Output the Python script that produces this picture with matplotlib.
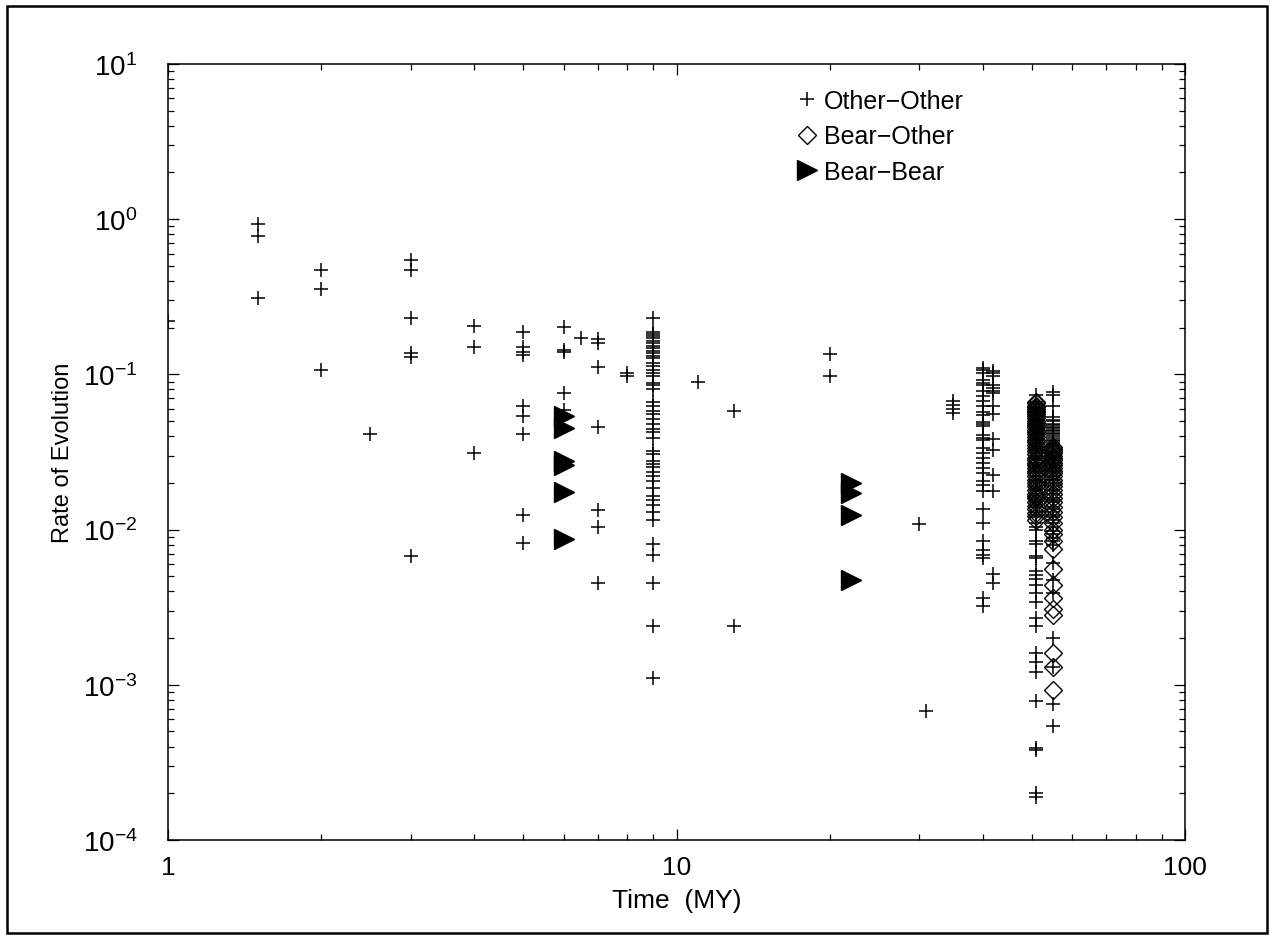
import numpy as np
import matplotlib
matplotlib.use("Agg")
import matplotlib.pyplot as plt
from matplotlib.patches import Rectangle

plt.rcParams['font.family'] = ['Liberation Sans', 'DejaVu Sans']
plt.rcParams['mathtext.fontset'] = 'custom'
plt.rcParams['mathtext.rm'] = 'Liberation Sans'
plt.rcParams['mathtext.it'] = 'Liberation Sans:italic'

# Other-Other: divergence time (MY) and the rates read at that time
other_times = [1, 1.5, 2, 2.5, 3, 4, 5, 6, 6.5, 7, 8, 9, 11, 13, 20, 30, 31, 35, 40, 42, 51, 55]
other_rates = [
    [0.22],
    [0.93, 0.78, 0.31],
    [0.47, 0.355, 0.107],
    [0.041],
    [0.55, 0.47, 0.23, 0.137, 0.13, 0.0068],
    [0.205, 0.15, 0.031],
    [0.187, 0.15, 0.14, 0.133, 0.0625, 0.054, 0.041, 0.0124, 0.0082],
    [0.203, 0.144, 0.14, 0.076, 0.059],
    [0.172],
    [0.169, 0.16, 0.112, 0.0458, 0.0134, 0.0104, 0.0045],
    [0.102, 0.097],
    [0.230, 0.187, 0.182, 0.176, 0.171, 0.165, 0.159, 0.153, 0.148, 0.142,
     0.137, 0.132, 0.127, 0.118, 0.114, 0.106, 0.102, 0.098, 0.088, 0.085,
     0.0805, 0.066, 0.0629, 0.0584, 0.0556, 0.0516, 0.0479, 0.0445, 0.0423,
     0.0388, 0.0323, 0.0307, 0.0278, 0.0265, 0.0252, 0.0234, 0.0223, 0.0207,
     0.0185, 0.0164, 0.0154, 0.0143, 0.0129, 0.0116, 0.0081, 0.0069, 0.0045,
     0.0024, 0.0011],
    [0.089],
    [0.058, 0.0024],
    [0.135, 0.097],
    [0.0109],
    [0.00068],
    [0.0674, 0.0635, 0.0598, 0.0564],
    [0.110, 0.106, 0.1015, 0.0916, 0.0884, 0.0849, 0.0786, 0.0728, 0.0675,
     0.0625, 0.057, 0.055, 0.0497, 0.0479, 0.0464, 0.0405, 0.039, 0.0378,
     0.0338, 0.0313, 0.029, 0.0269, 0.0249, 0.023, 0.0205, 0.0193, 0.0178,
     0.0135, 0.011, 0.0085, 0.0074, 0.0069, 0.0066, 0.0036, 0.0032],
    [0.105, 0.1015, 0.098, 0.085, 0.0815, 0.0786, 0.0754, 0.0625, 0.0555,
     0.0384, 0.0324, 0.0225, 0.0176, 0.0052, 0.0045],
    [0.074, 0.066, 0.064, 0.062, 0.061, 0.059, 0.057, 0.056, 0.0545, 0.053,
     0.0515, 0.050, 0.049, 0.048, 0.047, 0.046, 0.045, 0.044, 0.043, 0.042,
     0.041, 0.040, 0.039, 0.038, 0.037, 0.036, 0.035, 0.034, 0.033, 0.032,
     0.031, 0.030, 0.029, 0.028, 0.027, 0.026, 0.025, 0.024, 0.023, 0.022,
     0.021, 0.0205, 0.020, 0.019, 0.0185, 0.018, 0.017, 0.0165, 0.016, 0.0155,
     0.015, 0.0145, 0.014, 0.013, 0.0125, 0.012, 0.011, 0.0104, 0.0099,
     0.0085, 0.0081, 0.0068, 0.0066, 0.0054, 0.0051, 0.0048, 0.0044, 0.0039,
     0.0034, 0.0027, 0.0024, 0.0016, 0.0014, 0.0012, 0.00079, 0.00039,
     0.00038, 0.00020, 0.00019],
    [0.077, 0.074, 0.063, 0.053, 0.051, 0.050, 0.048, 0.047, 0.046, 0.045,
     0.044, 0.043, 0.042, 0.041, 0.040, 0.039, 0.038, 0.037, 0.036, 0.035,
     0.034, 0.033, 0.032, 0.031, 0.030, 0.029, 0.028, 0.027, 0.026, 0.025,
     0.024, 0.023, 0.022, 0.021, 0.020, 0.019, 0.018, 0.017, 0.016, 0.0155,
     0.015, 0.014, 0.0135, 0.013, 0.0125, 0.012, 0.0115, 0.011, 0.0104,
     0.0098, 0.0093, 0.0088, 0.0084, 0.0080, 0.0061, 0.0047, 0.0039, 0.0020,
     0.0013, 0.00075, 0.00054],
]

# Bear-Other
bear_other_times = [51, 55]
bear_other_rates = [
    [0.066, 0.065, 0.063, 0.0615, 0.060, 0.0585, 0.057, 0.0555, 0.054, 0.052,
     0.050, 0.0485, 0.047, 0.0455, 0.044, 0.0425, 0.041, 0.0395, 0.038, 0.0365,
     0.035, 0.0335, 0.032, 0.0305, 0.029, 0.028, 0.027, 0.026, 0.025, 0.024,
     0.023, 0.022, 0.021, 0.020, 0.019, 0.018, 0.017, 0.0165, 0.016, 0.015,
     0.0142, 0.0135, 0.0128, 0.0122, 0.0115],
    [0.034, 0.033, 0.032, 0.031, 0.030, 0.029, 0.028, 0.027, 0.026, 0.025,
     0.024, 0.023, 0.022, 0.021, 0.020, 0.019, 0.018, 0.017, 0.016, 0.015,
     0.014, 0.013, 0.012, 0.011, 0.010, 0.0093, 0.0085, 0.0075, 0.0056,
     0.0044, 0.0036, 0.0031, 0.0028, 0.0016, 0.0013, 0.00092],
]

# Bear-Bear
bear_bear_times = [6, 22]
bear_bear_rates = [
    [0.054, 0.045, 0.0277, 0.026, 0.0175, 0.0087],
    [0.020, 0.0172, 0.0125, 0.00476],
]


def flatten(times, rates):
    xs = np.concatenate([[t] * len(r) for t, r in zip(times, rates)])
    ys = np.concatenate(rates)
    return xs, ys


fig = plt.figure(figsize=(12.7, 9.37), dpi=100)
ax = fig.add_axes([0.1323, 0.1025, 0.8008, 0.8281])

x, y = flatten(other_times, other_rates)
ax.plot(x, y, ls='none', marker='+', ms=9.5, mew=1.1, color='black', label='Other\u2212Other')
x, y = flatten(bear_other_times, bear_other_rates)
ax.plot(x, y, ls='none', marker='D', ms=9.5, mew=1.0, mfc='none', mec='black', label='Bear\u2212Other')
x, y = flatten(bear_bear_times, bear_bear_rates)
ax.plot(x, y, ls='none', marker='>', ms=14, color='black', label='Bear\u2212Bear')

ax.set_xscale('log')
ax.set_yscale('log')
ax.set_xlim(1, 100)
ax.set_ylim(1e-4, 10)
ax.set_xticks([1, 10, 100], labels=['1', '10', '100'])
ax.set_yticks([1e-4, 1e-3, 1e-2, 1e-1, 1, 10],
              labels=[r'$10^{-4}$', r'$10^{-3}$', r'$10^{-2}$', r'$10^{-1}$', r'$10^{0}$', r'$10^{1}$'])
ax.tick_params(which='both', direction='in', top=True, right=True, width=0.9)
ax.tick_params(which='major', length=8)
ax.tick_params(which='minor', length=4)
ax.tick_params(axis='y', which='major', pad=22, labelsize=20)
ax.tick_params(axis='x', which='major', pad=11, labelsize=19)
for s in ax.spines.values():
    s.set_linewidth(1.1)

ax.set_xlabel('Time  (MY)', fontsize=19)
ax.set_ylabel('Rate of Evolution', fontsize=17)
ax.xaxis.set_label_coords(0.5, -0.062)
ax.yaxis.set_label_coords(-0.092, 0.5)

ax.legend(loc='upper left', bbox_to_anchor=(0.618, 0.968), frameon=False, fontsize=18,
          handlelength=0.8, handletextpad=0.3, labelspacing=0.46, borderpad=0,
          borderaxespad=0, markerscale=1.0)

fig.add_artist(Rectangle((0.0055, 0.0032), 0.992, 0.989, transform=fig.transFigure,
                         fill=False, lw=1.8, ec='black'))

fig.savefig('out.png', dpi=100)
